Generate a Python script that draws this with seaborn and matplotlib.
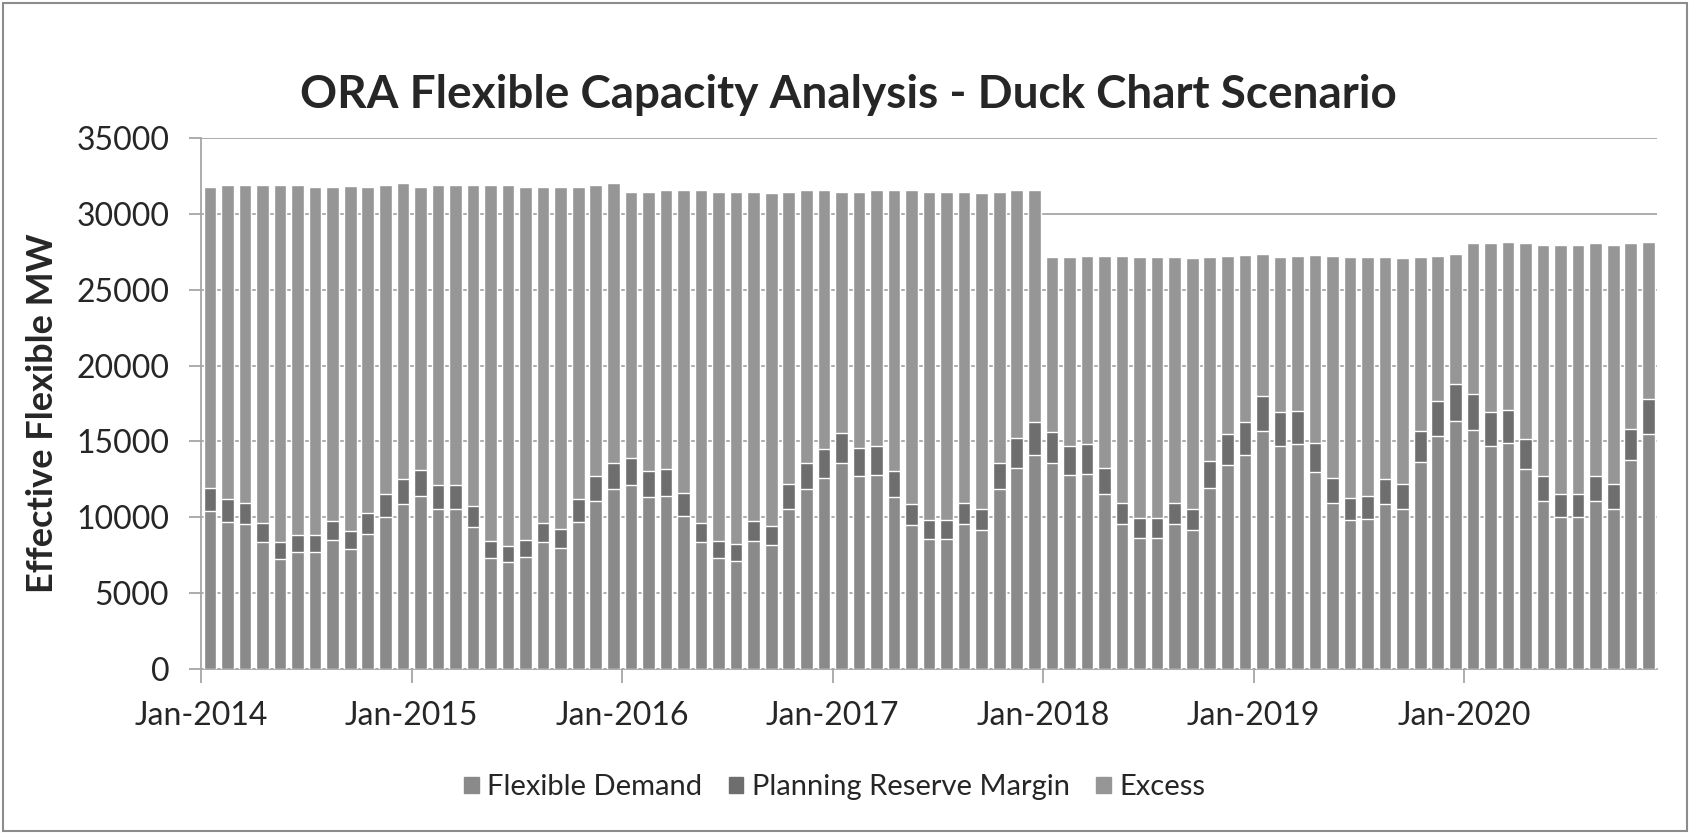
import pandas as pd
import matplotlib.pyplot as plt
import seaborn as sns
from matplotlib.patches import Patch, Rectangle

# Monthly categories Jan-2014 .. Nov-2020 (83 bars)
months = pd.date_range("2014-01-01", periods=83, freq="MS").strftime("%b-%Y").tolist()
tick_labels = ["Jan-2014", "Jan-2015", "Jan-2016", "Jan-2017", "Jan-2018", "Jan-2019", "Jan-2020"]

# Flexible Demand (MW)
flexible_demand = [
    10380, 9710, 9520, 8350, 7270, 7700, 7700, 8500, 7900, 8910, 10020, 10870,
    11380, 10570, 10570, 9370, 7300, 7040, 7390, 8370, 8000, 9710, 11050, 11830,
    12110, 11340, 11430, 10100, 8370, 7300, 7130, 8460, 8170, 10570, 11830, 12590,
    13550, 12690, 12780, 11340, 9480, 8560, 8560, 9520, 9140, 11830, 13260, 14130,
    13600, 12780, 12880, 11530, 9520, 8650, 8650, 9520, 9140, 11920, 13450, 14130,
    15660, 14700, 14800, 12970, 10960, 9810, 9900, 10860, 10570, 13640, 15370, 16340,
    15760, 14700, 14860, 13170, 11050, 10000, 10000, 11050, 10570, 13740, 15470,
]

# Planning Reserve Margin (MW)
planning_reserve = [
    1560, 1460, 1430, 1250, 1090, 1150, 1150, 1280, 1190, 1340, 1500, 1630,
    1710, 1580, 1580, 1400, 1100, 1060, 1110, 1250, 1200, 1460, 1660, 1770,
    1820, 1700, 1720, 1510, 1250, 1100, 1070, 1270, 1230, 1590, 1770, 1890,
    2030, 1900, 1920, 1700, 1420, 1280, 1280, 1430, 1370, 1770, 1990, 2120,
    2040, 1920, 1930, 1730, 1430, 1300, 1300, 1430, 1370, 1790, 2020, 2120,
    2350, 2210, 2220, 1950, 1640, 1470, 1490, 1630, 1590, 2050, 2310, 2450,
    2360, 2210, 2230, 1970, 1660, 1500, 1500, 1660, 1590, 2060, 2320,
]

# Excess (MW)
excess = [
    19860, 20760, 20980, 22330, 23570, 23080, 22950, 22020, 22750, 21550, 20410, 19540,
    18710, 19780, 19780, 21160, 23530, 23830, 23300, 22180, 22600, 20630, 19220, 18440,
    17520, 18410, 18430, 19970, 21960, 23050, 23250, 21720, 21960, 19290, 17980, 17100,
    15870, 16860, 16880, 18540, 20680, 21610, 21610, 20500, 20860, 17850, 16330, 15330,
    11500, 12440, 12410, 13960, 16270, 17190, 17190, 16190, 16560, 13430, 11750, 11040,
    9370, 10230, 10200, 12340, 14620, 15860, 15750, 14650, 14910, 11450, 9540, 8540,
    9930, 11140, 11040, 12910, 15250, 16460, 16460, 15340, 15800, 12250, 10340,
]

demand_color = "#8a8a8a"
prm_color = "#6e6e6e"
excess_color = "#969696"
grid_color = "#a6a6a6"

df = pd.DataFrame({
    "month": months,
    "demand": flexible_demand,
    "prm": planning_reserve,
    "excess": excess,
})
df["demand_prm"] = df["demand"] + df["prm"]
df["total"] = df["demand_prm"] + df["excess"]

sns.set_style("white")
plt.rcParams["font.family"] = ["Lato", "DejaVu Sans"]

fig = plt.figure(figsize=(16.9, 8.34), dpi=100)
ax = fig.add_axes([0.119, 0.198, 0.8615, 0.6365])

# stacked bars, drawn as overlays from the top segment down
sns.barplot(data=df, x="month", y="total", color=excess_color, saturation=1,
            width=0.72, ax=ax, zorder=2)
sns.barplot(data=df, x="month", y="demand_prm", color=prm_color, saturation=1,
            width=0.72, ax=ax, zorder=3)
sns.barplot(data=df, x="month", y="demand", color=demand_color, saturation=1,
            width=0.72, ax=ax, zorder=4)

ax.set_xlim(-0.5, len(months) - 0.5)
ax.set_ylim(0, 35000)
ax.set_yticks(range(0, 35001, 5000))
ax.set_yticklabels([str(v) for v in range(0, 35001, 5000)], fontsize=23)
ax.set_xticks([-0.5 + 12 * i for i in range(len(tick_labels))])
ax.set_xticklabels(tick_labels, fontsize=23)
ax.set_xlabel("")
ax.set_ylabel("")

ax.yaxis.grid(True, color=grid_color, linewidth=1.3, zorder=1)
ax.set_axisbelow(True)
for side in ["top", "right"]:
    ax.spines[side].set_visible(False)
for side in ["left", "bottom"]:
    ax.spines[side].set_color(grid_color)
    ax.spines[side].set_linewidth(1.3)
ax.tick_params(axis="y", length=9, width=1.3, color=grid_color, pad=14, left=True)
ax.tick_params(axis="x", length=10, width=1.3, color=grid_color, pad=13, bottom=True)

fig.text(0.502, 0.886, "ORA Flexible Capacity Analysis - Duck Chart Scenario",
         ha="center", va="center", fontsize=33, fontweight="bold")
fig.text(0.025, 0.505, "Effective Flexible MW", ha="center", va="center",
         rotation=90, fontsize=26, fontweight="bold")

handles = [Patch(color=demand_color, label="Flexible Demand"),
           Patch(color=prm_color, label="Planning Reserve Margin"),
           Patch(color=excess_color, label="Excess")]
fig.legend(handles=handles, loc="center", bbox_to_anchor=(0.494, 0.056), ncol=3,
           frameon=False, fontsize=21, handlelength=0.5, handleheight=0.5,
           handletextpad=0.3, columnspacing=0.9)

# outer chart border
fig.patches.append(Rectangle((0.002, 0.003), 0.996, 0.994, transform=fig.transFigure,
                             fill=False, edgecolor="#8c8c8c", linewidth=1.5))

fig.savefig("out.png", dpi=100)
